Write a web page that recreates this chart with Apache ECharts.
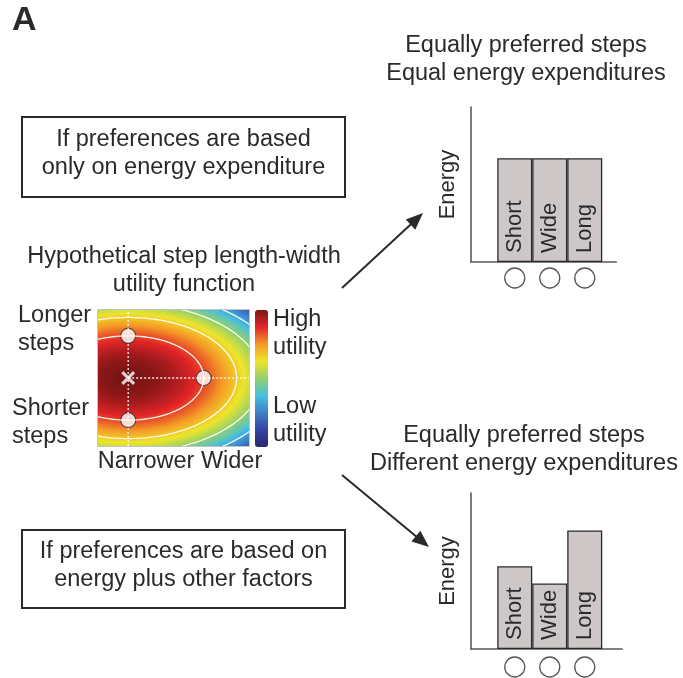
<!DOCTYPE html>
<html>
<head>
<meta charset="utf-8">
<script src="https://cdn.jsdelivr.net/npm/echarts@6/dist/echarts.min.js"></script>
<style>
  html, body { margin: 0; padding: 0; background: #ffffff; }
  #chart { width: 683px; height: 678px; }
</style>
</head>
<body>
<div id="chart"></div>
<script>
const FONT = '"Liberation Sans", Arial, Helvetica, sans-serif';
const INK = '#2a2a2a';

// ---- Energy bar panels ----
const stepTypes = ['Short', 'Wide', 'Long'];
const stepPositions = [1, 2, 3];
const energyEqual = [67, 67, 67];
const energyDifferent = [53, 42, 76];

// ---- Utility landscape over normalised step width (x) and step length (y) ----
const utilityOptimum = [0.2, 0.5];        // most preferred [width, length]
const isoUtilityRadii = [0.5, 0.31];      // half-axes of the iso-utility curve holding the three steps
const utilityDrop = 0.16;                 // utility lost per unit of squared normalised distance
const contourLevels = [0.84, 0.67, 0.5, 0.33];
const preferredSteps = [[0.2, 0.81], [0.2, 0.19], [0.7, 0.5]]; // longer, shorter, wider
const colorbarColors = ['#2b2571', '#3544a4', '#3f7fc8', '#49bfe0', '#93cf6e',
                        '#eee52c', '#f49a2a', '#e2262a', '#7a1717'];
const gridCols = 151, gridRows = 136;

function utility(w, l) {
  const dx = (w - utilityOptimum[0]) / isoUtilityRadii[0];
  const dy = (l - utilityOptimum[1]) / isoUtilityRadii[1];
  return Math.max(0, Math.min(1, 1 - utilityDrop * (dx * dx + dy * dy)));
}

const heatCells = [];
const colIdx = [], rowIdx = [];
for (let i = 0; i < gridCols; i++) colIdx.push(i);
for (let j = 0; j < gridRows; j++) rowIdx.push(j);
for (let i = 0; i < gridCols; i++) {
  for (let j = 0; j < gridRows; j++) {
    heatCells.push([i, j, utility((i + 0.5) / gridCols, (j + 0.5) / gridRows)]);
  }
}

function contourPath(level) {
  const r = Math.sqrt((1 - level) / utilityDrop);
  const pts = [];
  for (let k = 0; k <= 240; k++) {
    const t = (k / 240) * Math.PI * 2;
    pts.push([utilityOptimum[0] + isoUtilityRadii[0] * r * Math.cos(t),
              utilityOptimum[1] + isoUtilityRadii[1] * r * Math.sin(t)]);
  }
  return pts;
}

const contourSeries = contourLevels.map(lv => ({
  type: 'line', xAxisIndex: 1, yAxisIndex: 1, data: contourPath(lv),
  showSymbol: false, silent: true, clip: true,
  lineStyle: { color: '#ffffff', width: 1.3, opacity: 0.95 }
}));

const crossSeries = [
  [[utilityOptimum[0], 0], [utilityOptimum[0], 1]],
  [[utilityOptimum[0], utilityOptimum[1]], [1, utilityOptimum[1]]]
].map(d => ({
  type: 'line', xAxisIndex: 1, yAxisIndex: 1, data: d, showSymbol: false, silent: true,
  lineStyle: { color: '#ffffff', width: 1.3, type: [2, 2], opacity: 0.9 }
}));

// ---- layout helpers ----
function text(str, x, y, opts) {
  opts = opts || {};
  return {
    type: 'text', z: 50, silent: true,
    style: {
      text: str, x: x, y: y,
      font: (opts.weight || 'normal') + ' ' + (opts.size || 23.5) + 'px ' + FONT,
      fill: INK,
      align: opts.align || 'center', textAlign: opts.align || 'center',
      verticalAlign: 'middle', textVerticalAlign: 'middle',
      lineHeight: opts.lh || 28
    }
  };
}
function box(x, y, w, h) {
  return { type: 'rect', z: 50, silent: true, shape: { x: x, y: y, width: w, height: h },
           style: { fill: 'none', stroke: INK, lineWidth: 2 } };
}
function arrow(x1, y1, x2, y2) {
  const len = Math.hypot(x2 - x1, y2 - y1);
  const ux = (x2 - x1) / len, uy = (y2 - y1) / len;
  const hl = 17, hw = 7;
  const bx = x2 - ux * hl, by = y2 - uy * hl;
  return [
    { type: 'line', z: 50, silent: true, shape: { x1: x1, y1: y1, x2: bx + ux * 2, y2: by + uy * 2 },
      style: { stroke: INK, lineWidth: 2 } },
    { type: 'polygon', z: 50, silent: true,
      shape: { points: [[x2, y2], [bx - uy * hw, by + ux * hw], [bx + uy * hw, by - ux * hw]] },
      style: { fill: INK } }
  ];
}

const barAxisBase = {
  axisTick: { show: false }, axisLabel: { show: false }, splitLine: { show: false }
};
const barLineStyle = { color: '#5a5a5a', width: 1.6 };
const barItem = { color: '#cec7c7', borderColor: INK, borderWidth: 1.3 };
const barLabel = {
  show: true, position: 'insideBottom', rotate: 90, align: 'left', verticalAlign: 'middle',
  distance: 9, fontSize: 22, fontFamily: FONT, color: INK,
  formatter: p => stepTypes[p.dataIndex]
};

function barSeries(values, axisIdx) {
  return {
    type: 'bar', xAxisIndex: axisIdx, yAxisIndex: axisIdx, barWidth: 35, silent: true,
    data: stepPositions.map((x, i) => [x, values[i]]),
    itemStyle: barItem, label: barLabel
  };
}
function ringSeries(axisIdx, offset) {
  return {
    type: 'scatter', xAxisIndex: axisIdx, yAxisIndex: axisIdx, clip: false, silent: true,
    data: stepPositions.map(x => [x, 0]), symbol: 'circle', symbolSize: 20,
    symbolOffset: [0, offset],
    itemStyle: { color: '#ffffff', borderColor: INK, borderWidth: 1.3 }
  };
}

const chart = echarts.init(document.getElementById('chart'), null, { renderer: 'canvas' });

chart.setOption({
  animation: false,
  backgroundColor: '#ffffff',
  grid: [
    { left: 98, top: 310, width: 151, height: 136 },
    { left: 98, top: 310, width: 151, height: 136 },
    { left: 471, top: 107, width: 145.25, height: 155 },
    { left: 471, top: 493, width: 151.2, height: 156 }
  ],
  xAxis: [
    { type: 'category', gridIndex: 0, data: colIdx, show: false },
    { type: 'value', gridIndex: 1, min: 0, max: 1, show: false },
    Object.assign({ type: 'value', gridIndex: 2, min: -0.25, max: 3.9,
      axisLine: { show: true, onZero: false, lineStyle: barLineStyle } }, barAxisBase),
    Object.assign({ type: 'value', gridIndex: 3, min: -0.25, max: 4.07,
      axisLine: { show: true, onZero: false, lineStyle: barLineStyle } }, barAxisBase)
  ],
  yAxis: [
    { type: 'category', gridIndex: 0, data: rowIdx, show: false },
    { type: 'value', gridIndex: 1, min: 0, max: 1, show: false },
    Object.assign({ type: 'value', gridIndex: 2, min: 0, max: 100,
      name: 'Energy', nameLocation: 'middle', nameGap: 12,
      nameTextStyle: { fontSize: 22, fontFamily: FONT, color: INK },
      axisLine: { show: true, onZero: false, lineStyle: barLineStyle } }, barAxisBase),
    Object.assign({ type: 'value', gridIndex: 3, min: 0, max: 100,
      name: 'Energy', nameLocation: 'middle', nameGap: 12,
      nameTextStyle: { fontSize: 22, fontFamily: FONT, color: INK },
      axisLine: { show: true, onZero: false, lineStyle: barLineStyle } }, barAxisBase)
  ],
  visualMap: {
    type: 'continuous', min: 0, max: 1, seriesIndex: 0, show: true,
    left: 255, top: 310, itemWidth: 13, itemHeight: 137, padding: 0,
    calculable: false, hoverLink: false, orient: 'vertical',
    inRange: { color: colorbarColors }
  },
  series: [
    {
      type: 'heatmap', xAxisIndex: 0, yAxisIndex: 0, data: heatCells,
      progressive: 0, silent: true, itemStyle: { borderWidth: 0 }
    },
    ...contourSeries,
    ...crossSeries,
    {
      type: 'scatter', xAxisIndex: 1, yAxisIndex: 1, silent: true,
      data: [utilityOptimum],
      symbol: 'path://M0,1.6L1.6,0L5,3.4L8.4,0L10,1.6L6.6,5L10,8.4L8.4,10L5,6.6L1.6,10L0,8.4L3.4,5Z',
      symbolSize: 14, itemStyle: { color: '#ffffff' }
    },
    {
      type: 'scatter', xAxisIndex: 1, yAxisIndex: 1, silent: true,
      data: preferredSteps, symbol: 'circle', symbolSize: 15,
      itemStyle: { color: '#ffffff', borderColor: INK, borderWidth: 1.1 }
    },
    barSeries(energyEqual, 2), ringSeries(2, 16),
    barSeries(energyDifferent, 3), ringSeries(3, 18)
  ],
  graphic: [
    text('A', 12, 21, { align: 'left', weight: 'bold', size: 34 }),
    box(22, 117, 323, 80),
    text('If preferences are based\nonly on energy expenditure', 183.5, 154),
    text('Hypothetical step length-width\nutility function', 184, 271),
    text('Longer\nsteps', 18, 330, { align: 'left' }),
    text('Shorter\nsteps', 12, 422.5, { align: 'left' }),
    text('High\nutility', 273, 334, { align: 'left' }),
    text('Low\nutility', 273, 421, { align: 'left' }),
    text('Narrower Wider', 180, 462),
    box(22, 530, 323, 78),
    text('If preferences are based on\nenergy plus other factors', 183.5, 566),
    text('Equally preferred steps\nEqual energy expenditures', 526, 60),
    text('Equally preferred steps\nDifferent energy expenditures', 524, 449.5),
    ...arrow(342, 288, 423, 213),
    ...arrow(342, 475, 429, 547),
    { type: 'rect', z: 40, silent: true, shape: { x: 97.5, y: 309.5, width: 152, height: 137 },
      style: { fill: 'none', stroke: '#c4c4c4', lineWidth: 1 } }
  ]
});
</script>
</body>
</html>
